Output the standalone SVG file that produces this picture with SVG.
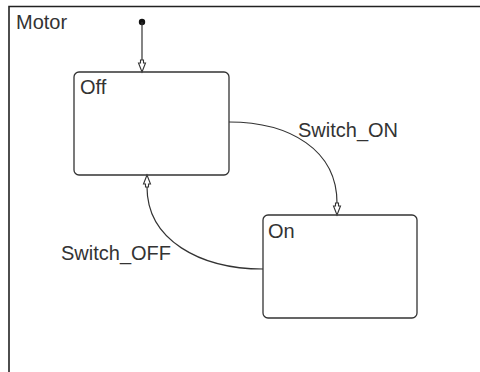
<svg xmlns="http://www.w3.org/2000/svg" width="480" height="372" viewBox="0 0 480 372">
<style>
.frame{fill:none;stroke:#222;stroke-width:1.6}
.state{fill:#fff;stroke:#333;stroke-width:1.3}
.lbl{font-family:"Liberation Sans",Arial,sans-serif;font-size:20px;fill:#333}
.edge{fill:none;stroke:#333;stroke-width:1.2}
.ah{fill:#fff;stroke:#333;stroke-width:1.1}
</style>
<defs>
<path id="arrowUp" d="M0,0 L-3.5,9 L-1.5,9 L-1.5,12 L1.5,12 L1.5,9 L3.5,9 Z"/>
</defs>
<rect width="480" height="372" fill="#fff"/>
<g id="Motor">
<path class="frame" d="M9,372 V6.5 H480"/>
<text class="lbl" x="16" y="29">Motor</text>
</g>
<g id="Off">
<rect class="state" x="74" y="72" width="155" height="103" rx="5"/>
<text class="lbl" x="80" y="94">Off</text>
</g>
<g id="On">
<rect class="state" x="263" y="215" width="154" height="103" rx="5"/>
<text class="lbl" x="268" y="238">On</text>
</g>
<g id="initial">
<circle cx="142" cy="22" r="3.2" fill="#111"/>
</g>
<g id="connectors">
<path class="edge" d="M142,22 V60"/>
<use href="#arrowUp" class="ah" transform="translate(142,72) rotate(180)"/>
<path class="edge" d="M229,122 C290,122 337,150 337,203"/>
<use href="#arrowUp" class="ah" transform="translate(337,215) rotate(180)"/>
<text class="lbl" x="298" y="137">Switch_ON</text>
<path class="edge" d="M263,269 C200,269 147,240 147,187"/>
<use href="#arrowUp" class="ah" transform="translate(147,175)"/>
<text class="lbl" x="61" y="260">Switch_OFF</text>
</g>
</svg>
